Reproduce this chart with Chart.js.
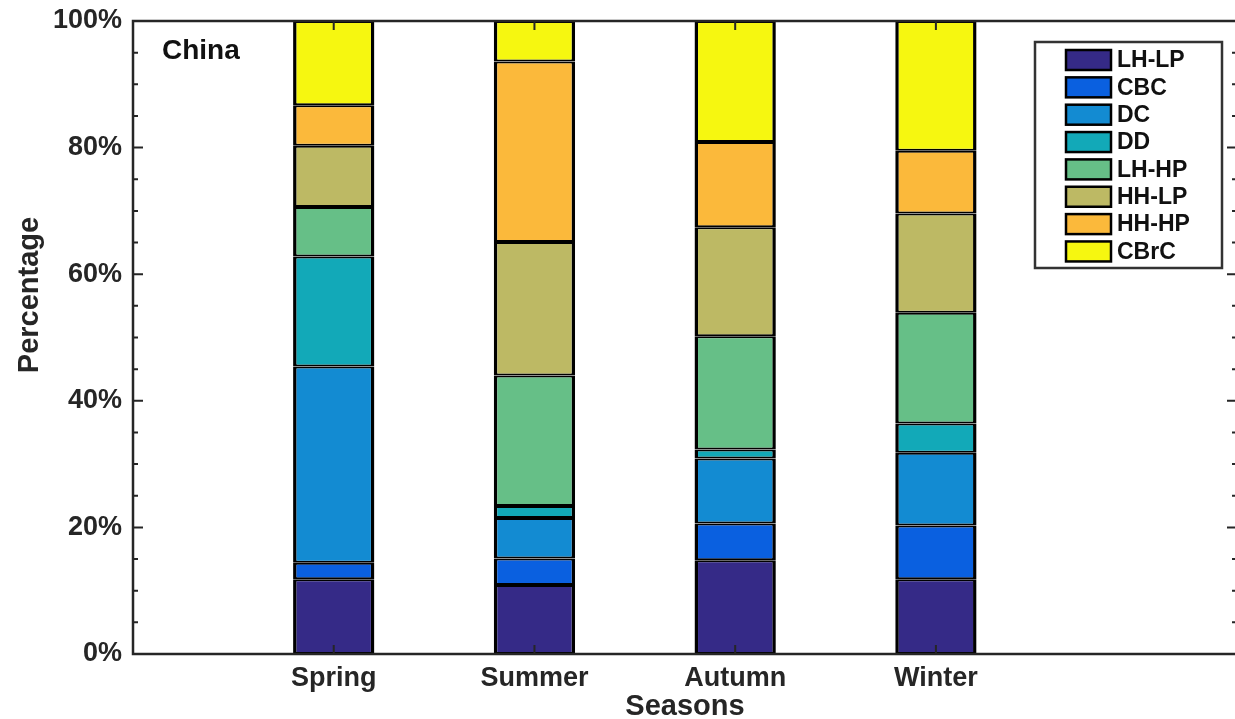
<!DOCTYPE html>
<html lang="en">
<head>
    <meta charset="UTF-8">
    <title>China - seasonal percentage</title>
    <script src="https://cdn.jsdelivr.net/npm/chart.js"></script>
    <style>
        body {
            margin: 0;
            overflow: hidden;
            background: #ffffff;
        }
        .chart-container {
            position: relative;
            width: 1240px; /* a bit wider than the window: right axis sits just off the picture */
            height: 719px;
        }
    </style>
</head>
<body>

<div class="chart-container">
    <canvas id="myChart"></canvas>
</div>

<script>
    // data (percent of each season)
    const seasons = ['Spring', 'Summer', 'Autumn', 'Winter'];
    const classes = ['LH-LP', 'CBC', 'DC', 'DD', 'LH-HP', 'HH-LP', 'HH-HP', 'CBrC'];
    const lhLp = [11.8, 10.9, 14.8, 11.8];
    const cbc  = [2.6, 4.2, 5.8, 8.5];
    const dc   = [31.0, 6.4, 10.3, 11.5];
    const dd   = [17.4, 1.9, 1.4, 4.6];
    const lhHp = [7.8, 20.6, 17.9, 17.5];
    const hhLp = [9.7, 21.1, 17.2, 15.7];
    const hhHp = [6.4, 28.5, 13.5, 9.9];
    const cbrc = [13.3, 6.4, 19.1, 20.5];
    const yTicks = [0, 20, 40, 60, 80, 100];

    const series = [lhLp, cbc, dc, dd, lhHp, hhLp, hhHp, cbrc];
    const colors = ['#352a87', '#0a60e0', '#138bd2', '#12a9b8', '#66bf87', '#bdb964', '#fbb93b', '#f6f710'];

    const axisColor = '#262626';
    const fontFamily = '"Liberation Sans", Arial, Helvetica, sans-serif';

    Chart.defaults.font.family = fontFamily;
    Chart.defaults.font.weight = 'bold';
    Chart.defaults.color = axisColor;

    const datasets = series.map((vals, i) => ({
        label: classes[i],
        data: vals.map((v, j) => ({ x: j + 1, y: v })),
        backgroundColor: colors[i],
        borderColor: '#000000',
        borderWidth: { top: 2, bottom: 2, left: 3.5, right: 3.5 },
        borderSkipped: false,
        inflateAmount: 0,
        barPercentage: 0.405,
        categoryPercentage: 1
    }));

    // matlab-like box, inward ticks, y title, panel text and legend
    const matlabAxes = {
        id: 'matlabAxes',
        afterDatasetsDraw(chart) {
            const ctx = chart.ctx;
            const { left, right, top, bottom } = chart.chartArea;
            const xs = chart.scales.x;
            const ys = chart.scales.y;
            ctx.save();
            ctx.strokeStyle = axisColor;
            ctx.lineWidth = 2;
            ys.ticks.forEach(t => {
                const py = ys.getPixelForValue(t.value);
                const len = yTicks.includes(t.value) ? 10 : 5;
                ctx.beginPath();
                ctx.moveTo(left, py); ctx.lineTo(left + len, py);
                ctx.moveTo(right, py); ctx.lineTo(right - len, py);
                ctx.stroke();
            });
            xs.ticks.forEach(t => {
                const px = xs.getPixelForValue(t.value);
                ctx.beginPath();
                ctx.moveTo(px, bottom); ctx.lineTo(px, bottom - 9);
                ctx.moveTo(px, top); ctx.lineTo(px, top + 9);
                ctx.stroke();
            });
            ctx.lineWidth = 2.5;
            ctx.strokeRect(left, top, right - left, bottom - top);

            // y axis title
            ctx.fillStyle = axisColor;
            ctx.font = 'bold 29px ' + fontFamily;
            ctx.textAlign = 'center';
            ctx.textBaseline = 'middle';
            ctx.save();
            ctx.translate(30, 295);
            ctx.rotate(-Math.PI / 2);
            ctx.fillText('Percentage', 0, 0);
            ctx.restore();

            // panel name
            ctx.fillStyle = '#111111';
            ctx.font = 'bold 28px ' + fontFamily;
            ctx.textAlign = 'left';
            ctx.fillText('China', 162, 51);

            // legend
            const lx = 1035, ly = 42, lw = 187, lh = 226;
            ctx.fillStyle = '#ffffff';
            ctx.fillRect(lx, ly, lw, lh);
            ctx.strokeStyle = '#333333';
            ctx.lineWidth = 2.5;
            ctx.strokeRect(lx, ly, lw, lh);
            ctx.font = 'bold 23px ' + fontFamily;
            chart.data.datasets.forEach((ds, i) => {
                const cy = 60 + i * 27.35;
                ctx.fillStyle = ds.backgroundColor;
                ctx.fillRect(1066, cy - 10, 45, 20);
                ctx.strokeStyle = '#000000';
                ctx.lineWidth = 2.5;
                ctx.strokeRect(1066, cy - 10, 45, 20);
                ctx.fillStyle = '#111111';
                ctx.fillText(ds.label, 1117, cy + 1);
            });
            ctx.restore();
        }
    };

    const ctx = document.getElementById('myChart').getContext('2d');
    const myChart = new Chart(ctx, {
        type: 'bar',
        data: { datasets: datasets },
        options: {
            responsive: true,
            maintainAspectRatio: false,
            animation: false,
            layout: { padding: { left: 0, right: 3, top: 21, bottom: 0 } },
            plugins: {
                legend: { display: false },
                tooltip: { enabled: false }
            },
            scales: {
                x: {
                    type: 'linear',
                    stacked: true,
                    offset: false,
                    min: 0,
                    max: 5.5,
                    grid: { display: false, drawTicks: false, offset: false },
                    border: { display: false },
                    afterBuildTicks: scale => {
                        scale.ticks = seasons.map((s, i) => ({ value: i + 1 }));
                    },
                    afterFit: scale => { scale.height = 65; },
                    ticks: {
                        padding: 8,
                        color: axisColor,
                        font: { size: 27, weight: 'bold' },
                        callback: v => seasons[v - 1]
                    },
                    title: {
                        display: true,
                        text: 'Seasons',
                        color: axisColor,
                        font: { size: 29, weight: 'bold', lineHeight: 0.8 },
                        padding: 0
                    }
                },
                y: {
                    stacked: true,
                    min: 0,
                    max: 100,
                    grid: { display: false, drawTicks: false },
                    border: { display: false },
                    afterFit: scale => {
                        scale.width = 133;
                        scale.paddingTop = 0;
                        scale.paddingBottom = 0;
                    },
                    ticks: {
                        stepSize: 5,
                        padding: 11,
                        color: axisColor,
                        font: { size: 27, weight: 'bold' },
                        autoSkip: false,
                        callback: v => yTicks.includes(v) ? v + '%' : ''
                    }
                }
            }
        },
        plugins: [matlabAxes]
    });
</script>

</body>
</html>
